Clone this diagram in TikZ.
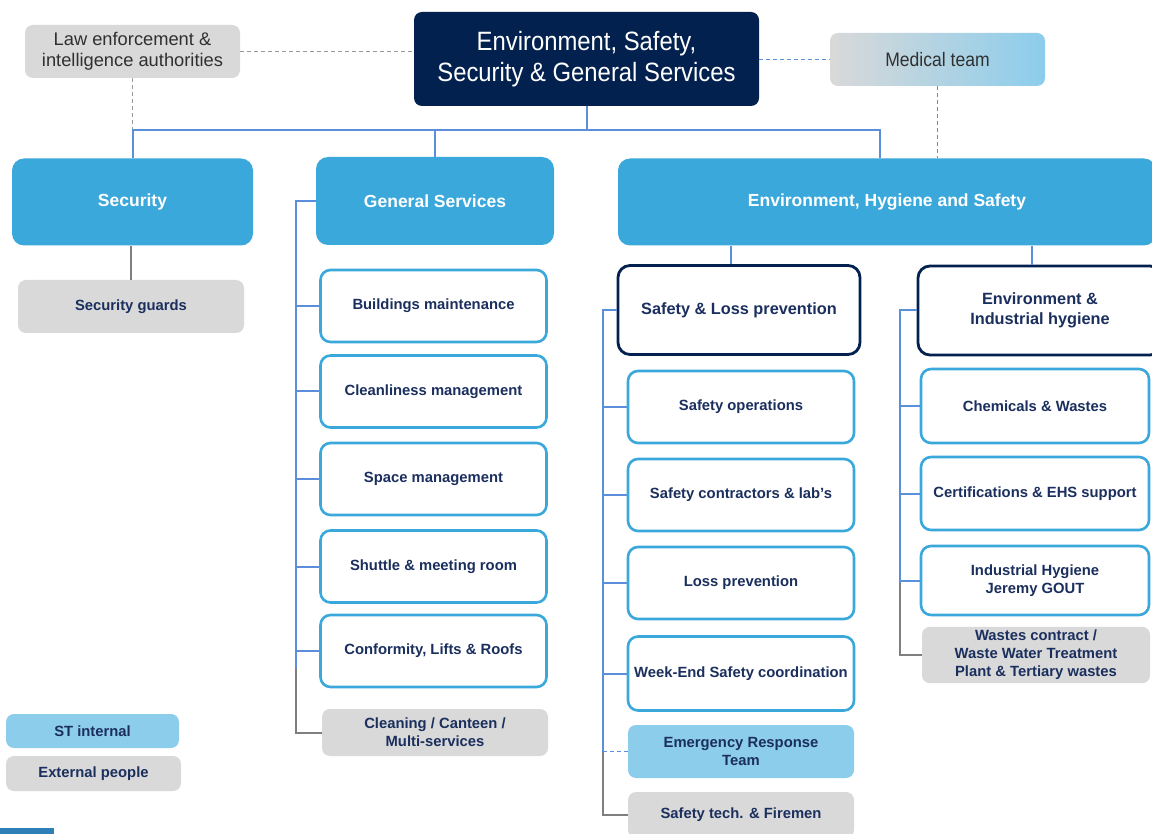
\documentclass[tikz,border=0pt]{standalone}
\usepackage{fontspec}
\setmainfont{Liberation Sans}
\newfontfamily\narrowf{Liberation Sans}[FakeStretch=0.9]
\definecolor{hdr}{HTML}{3AA8DB}
\definecolor{navy}{HTML}{1B2F5E}
\definecolor{topc}{HTML}{03214F}
\definecolor{greyc}{HTML}{D9D9D9}
\definecolor{lblue}{HTML}{8CCDEC}
\definecolor{connb}{HTML}{5B8EDB}
\definecolor{conng}{HTML}{7F7F7F}
\definecolor{dgrey}{HTML}{303030}
\definecolor{logob}{HTML}{2E7FB8}
\tikzset{
  hdrbox/.style={fill=hdr, rounded corners=12pt, text=white, align=center,
    font=\fontsize{17.5}{21}\selectfont\bfseries},
  childbox/.style={draw=hdr, line width=2.6pt, fill=white, rounded corners=10pt,
    text=navy, align=center, minimum width=226pt, minimum height=72pt,
    font=\fontsize{14.8}{18}\selectfont\bfseries},
  subbox/.style={draw=topc, line width=2.8pt, fill=white, rounded corners=12pt,
    text=navy, align=center, minimum height=89pt,
    font=\fontsize{16.3}{20}\selectfont\bfseries},
  extbox/.style={fill=greyc, rounded corners=8pt, text=navy, align=center,
    font=\fontsize{14.8}{18}\selectfont\bfseries},
  intbox/.style={fill=lblue, rounded corners=8pt, text=navy, align=center,
    font=\fontsize{14.8}{18}\selectfont\bfseries},
  conn/.style={draw=connb, line width=2pt},
  gconn/.style={draw=conng, line width=2pt},
  dconn/.style={draw=connb, line width=1.3pt, dash pattern=on 4pt off 3pt},
  gdconn/.style={draw=conng!80, line width=1.3pt, dash pattern=on 4pt off 3pt},
}
\begin{document}
\begin{tikzpicture}[x=1pt,y=-1pt]
\useasboundingbox (0,0) rectangle (1152,834);
\clip (0,0) rectangle (1152,834);
\fill[white] (0,0) rectangle (1152,834);

% top level
\node[fill=topc, rounded corners=8pt, text=white, align=center,
  minimum width=345pt, minimum height=94pt,
  font=\narrowf\fontsize{26.5}{31}\selectfont] (top) at (586.5,59)
  {Environment, Safety,\\Security \& General Services};
\node[fill=greyc, rounded corners=8pt, text=dgrey, align=center,
  minimum width=215pt, minimum height=53pt,
  font=\fontsize{18.3}{21}\selectfont] (law) at (132.5,51.5)
  {Law enforcement \&\\intelligence authorities};
\node[rounded corners=8pt, left color=greyc, right color=lblue, text=dgrey,
  minimum width=215pt, minimum height=53pt,
  font=\narrowf\fontsize{19.5}{22}\selectfont] (med) at (937.5,59.5)
  {Medical team};

% level 2
\node[hdrbox, minimum width=241pt, minimum height=87pt] (sec) at (132.5,202) {Security};
\node[hdrbox, minimum width=238pt, minimum height=88pt] (gs) at (435,201) {General Services};
\node[hdrbox, minimum width=538pt, minimum height=87pt] (ehs) at (887,202) {Environment, Hygiene and Safety};

% security
\node[extbox, minimum width=226pt, minimum height=53pt] (guards) at (131,306.5) {Security guards};

% general services
\node[childbox] (bm) at (433.5,306) {Buildings maintenance};
\node[childbox] (cm) at (433.5,391.5) {Cleanliness management};
\node[childbox] (sm) at (433.5,479) {Space management};
\node[childbox] (sh) at (433.5,566.5) {Shuttle \& meeting room};
\node[childbox] (cf) at (433.5,651) {Conformity, Lifts \& Roofs};
\node[extbox, minimum width=226pt, minimum height=47pt] (clean) at (435,732.5)
  {Cleaning / Canteen /\\Multi-services};

% EHS sub heads
\node[subbox, minimum width=242pt] (slp) at (739,310) {Safety \& Loss prevention};
\node[subbox, minimum width=244pt] (env) at (1040,310.5) {Environment \&\\Industrial hygiene};

% safety column
\node[childbox] (sop) at (741,407) {Safety operations};
\node[childbox] (scl) at (741,495) {Safety contractors \& lab’s};
\node[childbox] (lp) at (741,583) {Loss prevention};
\node[childbox, minimum height=74pt] (we) at (741,673.5) {Week-End Safety coordination};
\node[intbox, minimum width=226pt, minimum height=53pt] (ert) at (741,751.5)
  {Emergency Response\\Team};
\node[extbox, minimum width=226pt, minimum height=46pt] (fire) at (741,815) {Safety tech. \& Firemen};

% environment column
\node[childbox, minimum width=228pt, minimum height=74pt] (chw) at (1035,406) {Chemicals \& Wastes};
\node[childbox, minimum width=228pt, minimum height=73pt] (cert) at (1035,493.5) {Certifications \& EHS support};
\node[childbox, minimum width=228pt, minimum height=69pt] (ih) at (1035,580.5)
  {Industrial Hygiene\\Jeremy GOUT};
\node[extbox, minimum width=228pt, minimum height=52pt] (waste) at (1036,655)
  {Wastes contract /\\Waste Water Treatment\\Plant \& Tertiary wastes};

% legend
\node[intbox, minimum width=173pt, minimum height=34pt] (legint) at (92.5,731) {ST internal};
\node[extbox, minimum width=175pt, minimum height=35pt] (legext) at (93.5,773.5) {External people};

% logo fragment
\fill[logob] (0,828) rectangle (54,840);

% dashed relations
\draw[gdconn] (law.east) -- (top.west |- law.east);
\draw[gdconn] (law.south) -- ++(0,52);
\draw[dconn] (top.east |- med.west) -- (med.west);
\draw[dconn] (med.south) -- (med.south |- ehs.north);

% main bus
\coordinate (bus) at (586.5,130);
\draw[conn] (top.south) -- (bus);
\draw[conn] (sec.north) -- (sec.north |- bus) -| ([xshift=-7pt]ehs.north);
\draw[conn] (gs.north |- bus) -- (gs.north);

% security
\draw[gconn, line width=1.3pt] (sec.south -| guards.north) -- (guards.north);

% GS column
\coordinate (gsb) at (296,201);
\coordinate (gsg) at (296,668);
\draw[conn] (gs.west) -- (gsb) -- (gsg);
\foreach \n in {bm,cm,sm,sh,cf} \draw[conn] (\n.west -| gsb) -- (\n.west);
\draw[gconn] (gsg) |- (clean.west);

% EHS to sub heads
\draw[conn] (ehs.south -| 731,0) -- (slp.north -| 731,0);
\draw[conn] (ehs.south -| 1032,0) -- (env.north -| 1032,0);

% safety column
\coordinate (sb) at (603,310);
\coordinate (sg) at (603,751.5);
\draw[conn] (slp.west) -- (sb) -- (sg);
\foreach \n in {sop,scl,lp,we} \draw[conn] (\n.west -| sb) -- (\n.west);
\draw[dconn] (sg) -- (ert.west);
\draw[gconn] (sg) |- (fire.west);

% environment column
\coordinate (eb) at (900,310.5);
\coordinate (eg) at (900,583);
\draw[conn] (env.west) -- (eb) -- (eg);
\foreach \n in {chw,cert,ih} \draw[conn] (\n.west -| eb) -- (\n.west);
\draw[gconn] (eg) |- (waste.west);
\end{tikzpicture}
\end{document}
